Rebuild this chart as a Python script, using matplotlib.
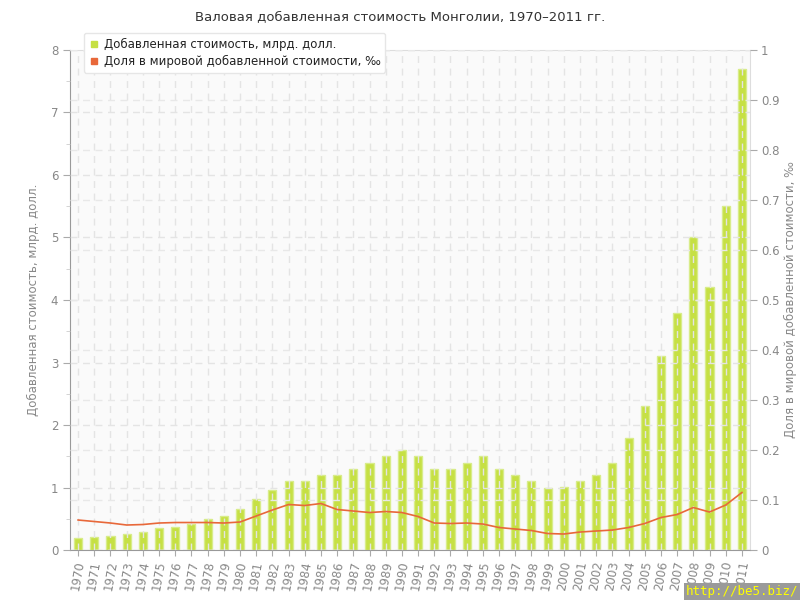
import numpy as np
import matplotlib.pyplot as plt
from matplotlib.lines import Line2D

years = list(range(1970, 2012))
gva_bn = [0.19, 0.21, 0.22, 0.26, 0.29, 0.35, 0.37, 0.42, 0.50, 0.55,
          0.66, 0.82, 0.96, 1.10, 1.10, 1.20, 1.20, 1.30, 1.40, 1.50,
          1.60, 1.50, 1.30, 1.30, 1.40, 1.50, 1.30, 1.20, 1.10, 1.00,
          1.01, 1.10, 1.20, 1.40, 1.80, 2.30, 3.10, 3.80, 5.00, 4.20,
          5.50, 7.70]
world_share = [0.060, 0.057, 0.054, 0.050, 0.051, 0.054, 0.055, 0.055, 0.055, 0.054,
               0.056, 0.068, 0.080, 0.091, 0.089, 0.093, 0.081, 0.078, 0.075, 0.077,
               0.075, 0.067, 0.054, 0.053, 0.054, 0.052, 0.045, 0.042, 0.039, 0.033,
               0.032, 0.036, 0.038, 0.040, 0.045, 0.053, 0.065, 0.071, 0.085, 0.076,
               0.090, 0.115]

title = "Валовая добавленная стоимость Монголии, 1970–2011 гг."
left_label = "Добавленная стоимость, млрд. долл."
right_label = "Доля в мировой добавленной стоимости, ‰"

bar_color = '#c6e044'
line_color = '#e8683a'
text_color = '#888888'

fig = plt.figure(figsize=(8, 6), dpi=100)
ax = fig.add_axes([0.0875, 0.0833, 0.85, 0.8334])
ax.set_facecolor('#fafafa')
x = np.arange(len(years))

ax.bar(x, gva_bn, width=0.5, color=bar_color, edgecolor='#d8ec8a', linewidth=1, zorder=1)
ax.set_xlim(-0.5, len(years) - 0.5)
ax.set_ylim(0, 8)
ax.set_yticks(range(0, 9))
ax.set_yticks(np.arange(0.5, 8, 1), minor=True)
ax.set_xticks(x)
ax.set_xticklabels([str(y) for y in years], rotation=80, fontsize=8.5, color=text_color)
ax.tick_params(axis='y', labelsize=8.5, colors=text_color, length=5, color='#aaaaaa')
ax.tick_params(axis='y', which='minor', length=3, color='#cccccc')
ax.tick_params(axis='x', length=4, color='#aaaaaa', colors=text_color, pad=3)
ax.set_axisbelow(False)
ax.grid(True, which='major', linestyle=(0, (5, 4)), color='#e4e4e4', linewidth=1)
ax.set_ylabel(left_label, fontsize=8.5, color=text_color, labelpad=8)

for s in ['left', 'bottom']:
    ax.spines[s].set_color('#999999')
ax.spines['top'].set_color('#dddddd')
ax.spines['right'].set_color('#dddddd')

ax2 = ax.twinx()
ax2.plot(x, world_share, color=line_color, linewidth=1.2, zorder=3)
ax2.set_ylim(0, 1)
ax2.set_yticks(np.arange(0, 1.01, 0.1))
ax2.set_yticklabels(['0'] + [f'{v:.1f}' for v in np.arange(0.1, 0.95, 0.1)] + ['1'])
ax2.tick_params(axis='y', labelsize=8.5, colors=text_color, length=5, color='#aaaaaa', pad=3)
ax2.grid(True, axis='y', linestyle=(0, (5, 4)), color='#e8e8e8', linewidth=1)
ax2.set_ylabel(right_label, fontsize=8.5, color=text_color, labelpad=3)
for s in ax2.spines.values():
    s.set_visible(False)

fig.text(0.5, 0.972, title, ha='center', va='center', fontsize=9.5, color='#333333')

handles = [Line2D([], [], marker='s', linestyle='none', color=bar_color, markersize=5),
           Line2D([], [], marker='s', linestyle='none', color=line_color, markersize=5)]
leg = fig.legend(handles, [left_label, right_label], loc='upper left',
                 bbox_to_anchor=(0.097, 0.955), fontsize=8.5, frameon=True,
                 fancybox=True, framealpha=1, edgecolor='#e6e6e6',
                 handletextpad=0.3, borderpad=0.4, labelspacing=0.35, handlelength=1)
for t in leg.get_texts():
    t.set_color('#222222')

fig.text(0.998, 0.003, 'http://be5.biz/', ha='right', va='bottom', fontsize=9,
         family='DejaVu Sans Mono', color='#ffff00',
         bbox=dict(facecolor='#9a9a9a', edgecolor='none', pad=1.5))

plt.savefig('out.png', dpi=100)
